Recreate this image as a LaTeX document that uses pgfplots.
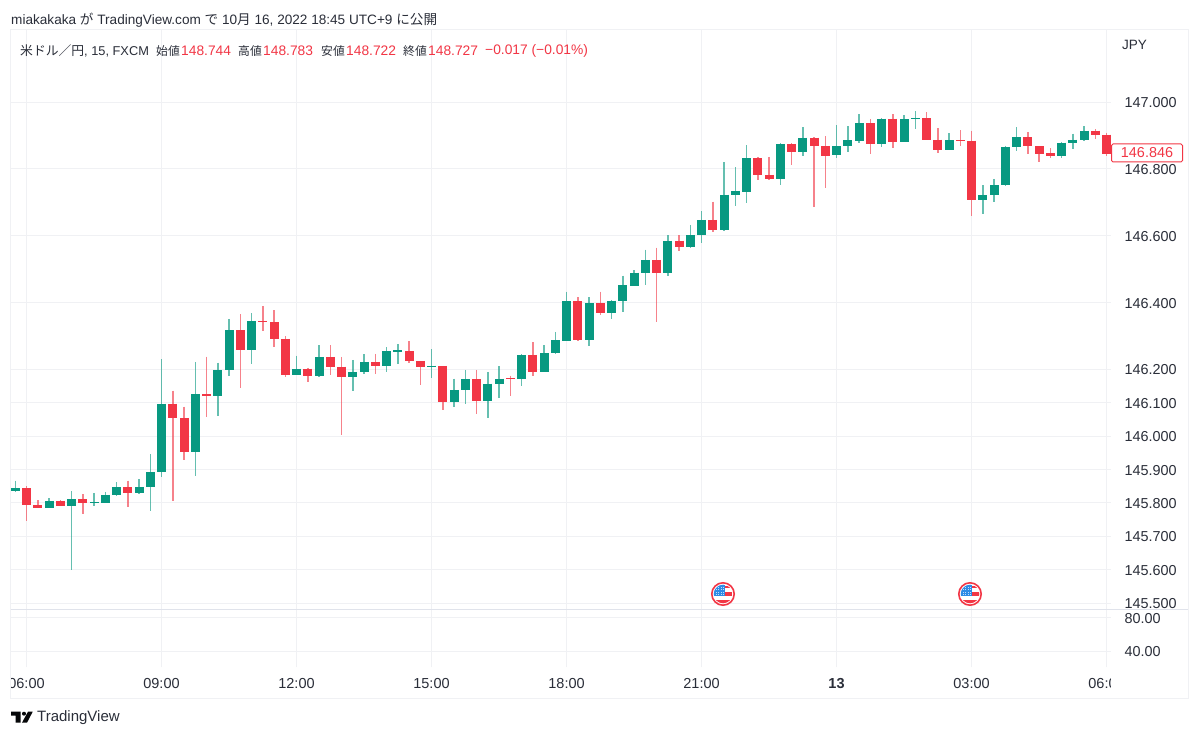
\documentclass[border=0pt]{standalone}
\usepackage{pgfplots}
\usepackage{pgfplotstable}
\usepackage{fontspec}
\pgfplotsset{compat=1.18}
\setmainfont{Liberation Sans}
\newfontfamily\cjk{Noto Sans CJK JP}
\definecolor{tvgreen}{HTML}{089981}
\definecolor{tvred}{HTML}{F23645}
\definecolor{tvgrid}{HTML}{F0F1F4}
\definecolor{tvtext}{HTML}{2A2E39}
\definecolor{tvsep}{HTML}{E0E3EB}
\definecolor{tvblue}{HTML}{2E8BE6}
\pgfplotstableread{
i top bot hi lo
-1 145.844 145.836 145.866 145.831
2 145.806 145.784 145.814 145.784
4 145.810 145.791 145.836 145.599
6 145.801 145.798 145.830 145.789
7 145.824 145.799 145.833 145.799
8 145.847 145.823 145.861 145.819
10 145.848 145.828 145.870 145.826
11 145.892 145.848 145.946 145.775
12 146.097 145.891 146.230 145.878
15 146.125 145.953 146.222 145.879
17 146.197 146.121 146.220 146.059
18 146.316 146.197 146.351 146.181
20 146.344 146.257 146.368 146.216
24 146.202 146.184 146.241 146.184
26 146.237 146.181 146.272 146.178
29 146.192 146.176 146.228 146.136
30 146.222 146.191 146.245 146.186
32 146.254 146.210 146.265 146.193
33 146.256 146.252 146.275 146.217
36 146.211 146.208 146.260 146.175
38 146.138 146.101 146.172 146.088
39 146.170 146.138 146.198 146.097
41 146.157 146.106 146.192 146.053
42 146.172 146.156 146.209 146.114
44 146.243 146.170 146.245 146.151
46 146.248 146.191 146.272 146.191
47 146.286 146.247 146.312 146.245
48 146.403 146.285 146.432 146.285
50 146.398 146.288 146.416 146.268
52 146.405 146.369 146.406 146.350
53 146.451 146.405 146.480 146.371
54 146.489 146.449 146.496 146.449
55 146.527 146.488 146.558 146.453
57 146.585 146.488 146.601 146.480
59 146.602 146.566 146.632 146.564
60 146.647 146.601 146.673 146.578
62 146.723 146.616 146.819 146.614
63 146.734 146.722 146.804 146.690
64 146.831 146.732 146.871 146.699
67 146.875 146.768 146.876 146.752
69 146.893 146.849 146.925 146.837
72 146.867 146.840 146.931 146.833
73 146.885 146.867 146.928 146.851
74 146.937 146.884 146.963 146.878
76 146.950 146.875 146.952 146.866
78 146.948 146.881 146.960 146.881
79 146.952 146.948 146.973 146.920
82 146.885 146.855 146.906 146.855
85 146.721 146.708 146.750 146.664
86 146.751 146.721 146.770 146.702
87 146.866 146.750 146.869 146.748
88 146.895 146.865 146.924 146.854
92 146.878 146.839 146.880 146.832
93 146.887 146.878 146.905 146.858
94 146.914 146.886 146.928 146.883
}\greentab
\pgfplotstableread{
i top bot hi lo
0 145.844 145.793 145.850 145.744
1 145.794 145.784 145.808 145.784
3 145.806 145.791 145.808 145.791
5 145.810 145.798 145.826 145.766
9 145.847 145.828 145.866 145.786
13 146.097 146.053 146.136 145.806
14 146.054 145.953 146.088 145.929
16 146.125 146.121 146.238 146.058
19 146.316 146.257 146.365 146.143
21 146.345 146.341 146.388 146.313
22 146.341 146.290 146.377 146.266
23 146.291 146.184 146.299 146.178
25 146.202 146.181 146.204 146.161
27 146.237 146.208 146.272 146.184
28 146.208 146.176 146.237 146.002
31 146.222 146.210 146.246 146.186
34 146.254 146.224 146.284 146.220
35 146.225 146.208 146.225 146.152
37 146.210 146.101 146.210 146.077
40 146.170 146.106 146.198 146.065
43 146.173 146.170 146.181 146.119
45 146.243 146.191 146.280 146.181
49 146.403 146.286 146.415 146.285
51 146.397 146.369 146.432 146.363
56 146.527 146.488 146.564 146.341
58 146.585 146.566 146.601 146.555
61 146.647 146.616 146.702 146.610
65 146.831 146.782 146.836 146.765
66 146.782 146.768 146.836 146.765
68 146.875 146.849 146.877 146.812
70 146.893 146.869 146.895 146.685
71 146.869 146.839 146.897 146.742
75 146.937 146.875 146.948 146.843
77 146.950 146.881 146.964 146.861
80 146.952 146.887 146.969 146.887
81 146.887 146.855 146.922 146.848
83 146.886 146.883 146.915 146.869
84 146.884 146.708 146.914 146.659
89 146.895 146.867 146.909 146.845
90 146.867 146.845 146.867 146.821
91 146.846 146.838 146.862 146.832
95 146.914 146.902 146.919 146.888
96 146.902 146.845 146.908 146.839
}\redtab
\pgfplotsset{
  tvpane/.style={
    scale only axis, width=1100pt,
    xmin=-1.378, xmax=96.4,
    axis line style={draw=none},
    major tick length=0pt,
    xmajorgrids, ymajorgrids,
    grid style={tvgrid, line width=0.9pt},
    axis on top=false,
    ytick pos=right,
    xtick={0,12,24,36,48,60,72,84,96},
    y tick label style={anchor=west, xshift=10pt, yshift=-0.7pt, font=\fontsize{14.4}{16}\selectfont, text=tvtext,
      /pgf/number format/.cd, fixed, fixed zerofill, assume math mode=true, 1000 sep={}},
    scaled y ticks=false,
  },
  wick/.style={draw=none, no marks, forget plot,
    error bars/.cd, y dir=both, y explicit, error mark=none,
    error bar style={line width=1.5pt, color=#1, opacity=0.62}},
  body/.style={draw=none, no marks, forget plot,
    error bars/.cd, y dir=both, y explicit, error mark=none,
    error bar style={line width=9pt, color=#1}},
}
\newcommand{\usflag}[2]{%
  \begin{scope}[shift={(#1,#2)}]
    \fill[white] (0,0) circle (12);
    \draw[tvred, line width=1.6pt] (0,0) circle (11.2);
    \begin{scope}
      \clip (0,0) circle (9.3);
      \fill[tvblue] (-10,-10) rectangle (2,2);
      \fill[tvred] (2,-8) rectangle (10,-6);
      \fill[tvred] (2,-2) rectangle (10,2);
      \fill[tvred] (-10,5.5) rectangle (10,10);
      \foreach \a in {-7,-4.5,-2,0.5} \foreach \b in {-7,-4.5,-2,0.5}
        \fill[white!70!tvblue] (\a-0.4,\b-0.4) rectangle (\a+0.4,\b+0.4);
    \end{scope}
  \end{scope}}
\begin{document}
\begin{tikzpicture}
\path[use as bounding box, fill=white] (0,0) rectangle (1200pt,737pt);
\begin{axis}[tvpane, name=main, at={(11pt,128pt)}, anchor=south west, height=579pt,
  ymin=145.482, ymax=147.2156,
  xticklabels={},
  ytick={145.5,145.6,145.7,145.8,145.9,146.0,146.1,146.2,146.4,146.6,146.8,147.0},
  y tick label style={/pgf/number format/precision=3},
]
\addplot[wick=tvgreen] table[x=i,y=hi,y error plus expr=0,y error minus expr=\thisrow{hi}-\thisrow{lo}] {\greentab};
\addplot[wick=tvred] table[x=i,y=hi,y error plus expr=0,y error minus expr=\thisrow{hi}-\thisrow{lo}] {\redtab};
\addplot[body=tvgreen] table[x=i,y=top,y error plus expr=0,y error minus expr=\thisrow{top}-\thisrow{bot}] {\greentab};
\addplot[body=tvred] table[x=i,y=top,y error plus expr=0,y error minus expr=\thisrow{top}-\thisrow{bot}] {\redtab};
\end{axis}
\begin{axis}[tvpane, name=lower, at={(11pt,70pt)}, anchor=south west, height=58pt,
  ymin=21.4, ymax=89.9,
  ytick={40,80},
  y tick label style={/pgf/number format/precision=2},
  xticklabels={06:00,09:00,12:00,15:00,18:00,21:00,\textbf{13},03:00,06:00},
  x tick label style={font=\fontsize{14.5}{16}\selectfont, text=tvtext, anchor=center, yshift=-17pt},
]
\end{axis}
\begin{scope}[x=1pt,y=-1pt,shift={(0pt,737pt)}]
  % clipped ends of the time labels
  \fill[white] (0,670) rectangle (11,696);
  \fill[white] (1111,670) rectangle (1186,696);
  % frame
  \draw[tvgrid, line width=1pt] (10.5,30) rectangle (1188,698);
  \draw[tvsep, line width=1pt] (10.5,609) -- (1188,609);
  % last price label
  \node[draw=tvred, fill=white, line width=1pt, text=tvred, rounded corners=1.5pt, font=\fontsize{14.4}{16}\selectfont,
        minimum width=71pt, minimum height=18pt, inner sep=0pt, anchor=center] at (1147,153) {\raisebox{-0.7pt}{146.846}};
  % header and legend
  \node[anchor=west, inner sep=0pt, text=tvtext, font=\fontsize{13.6}{15}\selectfont] at (11,19.7)
    {miakakaka {\cjk が} TradingView.com {\cjk で} 10{\cjk 月} 16, 2022 18:45 UTC+9 {\cjk に公開}};
  \begin{scope}[every node/.style={anchor=west, inner sep=0pt, font=\fontsize{13.8}{15}\selectfont}]
    \node[text=tvtext, font=\fontsize{12.8}{15}\selectfont] at (20,50.7) {{\cjk 米ドル／円}, 15, FXCM};
    \node[text=tvtext, font=\fontsize{11.8}{15}\selectfont] at (156,50.7) {\cjk 始値};
    \node[text=tvred] at (181,50.7) {148.744};
    \node[text=tvtext, font=\fontsize{11.8}{15}\selectfont] at (238,50.7) {\cjk 高値};
    \node[text=tvred] at (263,50.7) {148.783};
    \node[text=tvtext, font=\fontsize{11.8}{15}\selectfont] at (321,50.7) {\cjk 安値};
    \node[text=tvred] at (346,50.7) {148.722};
    \node[text=tvtext, font=\fontsize{11.8}{15}\selectfont] at (403,50.7) {\cjk 終値};
    \node[text=tvred] at (428,50.7) {148.727};
    \node[text=tvred] at (485,50.7) {−0.017 (−0.01\%)};
  \end{scope}
  \node[anchor=west, inner sep=0pt, text=tvtext, font=\fontsize{13.5}{15}\selectfont] at (1122,44.7) {JPY};
  % event icons
  \usflag{723}{594}
  \usflag{970}{594}
  % TradingView logo
  \fill[black!85!tvtext] (11,711.7) -- (20.7,711.7) -- (20.7,722.7) -- (15.7,722.7) -- (15.7,715.7) -- (11,715.7) -- cycle;
  \fill[black!85!tvtext] (24,713.7) circle (2);
  \fill[black!85!tvtext] (28,711.7) -- (32.7,711.7) -- (27,722.7) -- (22,722.7) -- cycle;
  \node[anchor=west, inner sep=0pt, text=tvtext, font=\fontsize{15}{17}\selectfont] at (37,718) {TradingView};
\end{scope}
\end{tikzpicture}
\end{document}
